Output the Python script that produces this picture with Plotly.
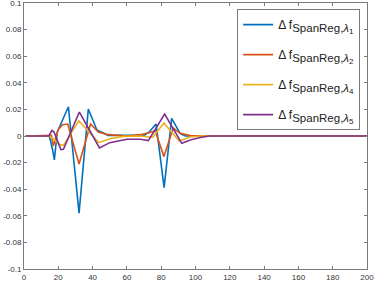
import plotly.graph_objects as go

# --- data (vertices) ---
blue_x = [1, 14.8, 16.7, 17.7, 19.4, 25.9, 32.1, 37.5, 42.5, 49, 70, 73, 77, 81.7, 86.1, 91, 94, 200]
blue_y = [0, 0, -0.0105, -0.018, 0.003, 0.022, -0.058, 0.0203, 0.0045, 0.0005, 0.0005, 0.003, 0.009, -0.0388, 0.0133, 0.002, 0, 0]

orange_x = [1, 14.8, 16, 17.1, 20, 22.5, 25.5, 32.1, 38.8, 43.3, 49, 60, 68, 74.5, 76.5, 81.6, 87, 91, 97, 200]
orange_y = [0, 0, 0.0005, -0.0075, 0.005, 0.0085, 0.009, -0.021, 0.009, 0.003, 0.001, 0, 0.001, 0.003, 0.004, -0.0155, 0.006, 0.002, 0.0003, 0]

yellow_x = [1, 15, 17, 21, 23, 32, 43.5, 50, 58, 68, 75, 81.6, 90.5, 96.8, 103, 200]
yellow_y = [0, 0, -0.002, -0.0065, -0.007, 0.0115, -0.005, -0.002, -0.0003, 0, -0.001, 0.0097, -0.0038, -0.0008, 0, 0]

purple_x = [1, 14.5, 16.3, 17.5, 21.5, 23, 32.3, 44, 50, 60, 68, 72.5, 82, 92, 97, 102, 108, 200]
purple_y = [0, 0, 0.0042, 0.003, -0.0102, -0.010, 0.018, -0.009, -0.005, -0.0025, -0.0025, -0.0035, 0.0165, -0.0055, -0.003, -0.0013, 0, 0]

lambda_idx = ["1", "2", "4", "5"]
series_names = [
    "Δ f<sub><span style='font-size:11.5px'>SpanReg,<i>λ</i></span><sub><span style='font-size:8px'>%s</span></sub></sub>" % k
    for k in lambda_idx
]
series_colors = ["#0072BD", "#D95319", "#EDB120", "#7E2F8E"]

x_ticks = [0, 20, 40, 60, 80, 100, 120, 140, 160, 180, 200]
y_ticks = [0.1, 0.08, 0.06, 0.04, 0.02, 0, -0.02, -0.04, -0.06, -0.08, -0.1]
y_ticktext = ["0.1", "0.08", "0.06", "0.04", "0.02", "0", "-0.02", "-0.04", "-0.06", "-0.08", "-0.1"]

fig = go.Figure()
for i, (xs, ys, name, col) in enumerate(zip(
    [blue_x, orange_x, yellow_x, purple_x],
    [blue_y, orange_y, yellow_y, purple_y],
    series_names, series_colors,
)):
    fig.add_trace(go.Scatter(x=xs, y=ys, mode="lines", name=name,
                             legendgroup=f"g{i}",
                             line=dict(color=col, width=1.6)))

axis_common = dict(showline=True, linecolor="#7a7a7a", linewidth=1, mirror="ticks",
                   ticks="inside", ticklen=3, tickcolor="#7a7a7a",
                   showgrid=False, zeroline=False, automargin=False,
                   ticklabeloverflow="allow",
                   tickfont=dict(family="Liberation Sans", size=8, color="#333"))

fig.update_layout(
    width=374, height=283,
    margin=dict(l=24, r=7, t=3, b=14),
    paper_bgcolor="white", plot_bgcolor="white",
    xaxis=dict(range=[0, 200], tickvals=x_ticks, **axis_common),
    yaxis=dict(range=[-0.1, 0.1], tickvals=y_ticks, ticktext=y_ticktext, **axis_common),
    showlegend=True,
    legend=dict(x=0.98, y=0.977, xanchor="right", yanchor="top",
                bordercolor="#7a7a7a", borderwidth=1, bgcolor="white",
                itemwidth=30, tracegroupgap=11,
                font=dict(family="Liberation Sans", size=12, color="#222")),
)

fig.write_html("out.html", config={"displayModeBar": False},
               post_script="document.body.style.margin='0';document.body.style.overflow='hidden';")
